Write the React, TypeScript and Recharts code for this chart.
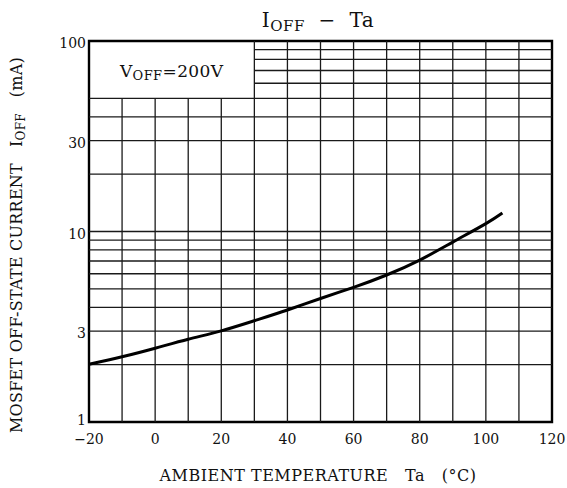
import { LineChart, Line, XAxis, YAxis, ReferenceLine, ReferenceArea, Customized } from 'recharts'

// IOFF vs ambient temperature
const temps = [-20, -10, 0, 10, 20, 30, 40, 50, 60, 70, 80, 90, 100, 105]
const ioff = [2.01, 2.2, 2.44, 2.72, 3.01, 3.4, 3.87, 4.45, 5.09, 5.91, 7.08, 8.8, 11.0, 12.5]

const xTicks = [-20, 0, 20, 40, 60, 80, 100, 120]
const yTicks = [1, 3, 10, 30, 100]

// grid: full-length lines and the ones cut short by the V_OFF box
const vGridFull = [30, 40, 50, 60, 70, 80, 90, 100, 110]
const vGridShort = [-10, 0, 10, 20]
const hGridFull = [2, 3, 4, 5, 6, 7, 8, 9, 10, 20, 30, 40, 50]
const hGridShort = [60, 70, 80, 90]

const data = temps.map((t, i) => ({ ta: t, ioff: ioff[i] }))

const FONT = '"DejaVu Serif", serif'
const GRID = '#1a1a1a'
const SP = '\u00a0'

const XTick = ({ x, y, payload }: any) => (
  <text x={x} y={y + 20} textAnchor="middle" fontFamily={FONT} fontSize={14} fill="#111">
    {payload.value < 0 ? '\u2212' + Math.abs(payload.value) : payload.value}
  </text>
)

const YTick = ({ x, y, payload }: any) => (
  <text x={x} y={payload.value === 1 ? y + 3 : y + 7} textAnchor="end" fontFamily={FONT} fontSize={14} fill="#111">
    {payload.value}
  </text>
)

const BoxLabel = ({ viewBox }: any) => {
  const cx = viewBox.x + viewBox.width / 2
  const cy = viewBox.y + viewBox.height / 2
  return (
    <text x={cx} y={cy + 7} textAnchor="middle" fontFamily={FONT} fontSize={17} fill="#111" letterSpacing={0.4}>
      V<tspan fontSize={13} dy={3}>OFF</tspan>
      <tspan dy={-3}>{'=200V'}</tspan>
    </text>
  )
}

const Texts = () => (
  <g fontFamily={FONT} fill="#111">
    <text x={318} y={27} textAnchor="middle" fontSize={20} letterSpacing={0.5}>
      I<tspan fontSize={15} dy={4}>OFF</tspan>
      <tspan dy={-4}>{SP + SP + '\u2212' + SP + SP + 'Ta'}</tspan>
    </text>
    <text x={318} y={481} textAnchor="middle" fontSize={16} letterSpacing={0.5}>
      {'AMBIENT TEMPERATURE' + SP.repeat(3) + 'Ta' + SP.repeat(3) + '(\u00b0C)'}
    </text>
    <text x={22} y={245} textAnchor="middle" fontSize={16} letterSpacing={0.25} transform="rotate(-90, 22, 245)">
      {'MOSFET OFF-STATE CURRENT' + SP.repeat(3) + 'I'}
      <tspan fontSize={12} dy={3}>OFF</tspan>
      <tspan dy={-3}>{SP.repeat(3) + '(mA)'}</tspan>
    </text>
  </g>
)

export default function App() {
  return (
    <div style={{ position: 'absolute', left: 0, top: 0, background: '#fff' }}>
      <LineChart width={567} height={488} data={data} margin={{ top: 41, right: 15, left: 29, bottom: 26 }}>
        <XAxis
          dataKey="ta"
          type="number"
          domain={[-20, 120]}
          ticks={xTicks}
          height={40}
          tickLine={false}
          axisLine={false}
          tickSize={0}
          tick={<XTick />}
          interval={0}
        />
        <YAxis
          type="number"
          scale="log"
          domain={[1, 100]}
          ticks={yTicks}
          width={60}
          tickLine={false}
          axisLine={false}
          tickSize={0}
          tickMargin={3}
          tick={<YTick />}
          interval={0}
          allowDataOverflow
        />
        {vGridFull.map((v) => (
          <ReferenceLine key={'vf' + v} x={v} stroke={GRID} strokeWidth={1.3} />
        ))}
        {vGridShort.map((v) => (
          <ReferenceLine key={'vs' + v} segment={[{ x: v, y: 1 }, { x: v, y: 50 }]} stroke={GRID} strokeWidth={1.3} />
        ))}
        {hGridFull.map((v) => (
          <ReferenceLine key={'hf' + v} y={v} stroke={GRID} strokeWidth={1.3} />
        ))}
        {hGridShort.map((v) => (
          <ReferenceLine key={'hs' + v} segment={[{ x: 30, y: v }, { x: 120, y: v }]} stroke={GRID} strokeWidth={1.3} />
        ))}
        <ReferenceArea x1={-20} x2={30} y1={50} y2={100} fill="none" stroke="none" label={<BoxLabel />} />
        <Line
          type="natural"
          dataKey="ioff"
          stroke="#000"
          strokeWidth={3}
          dot={false}
          isAnimationActive={false}
        />
        <ReferenceArea x1={-20} x2={120} y1={1} y2={100} fill="none" stroke="#000" strokeWidth={2.4} />
        <Customized component={Texts} />
      </LineChart>
    </div>
  )
}
